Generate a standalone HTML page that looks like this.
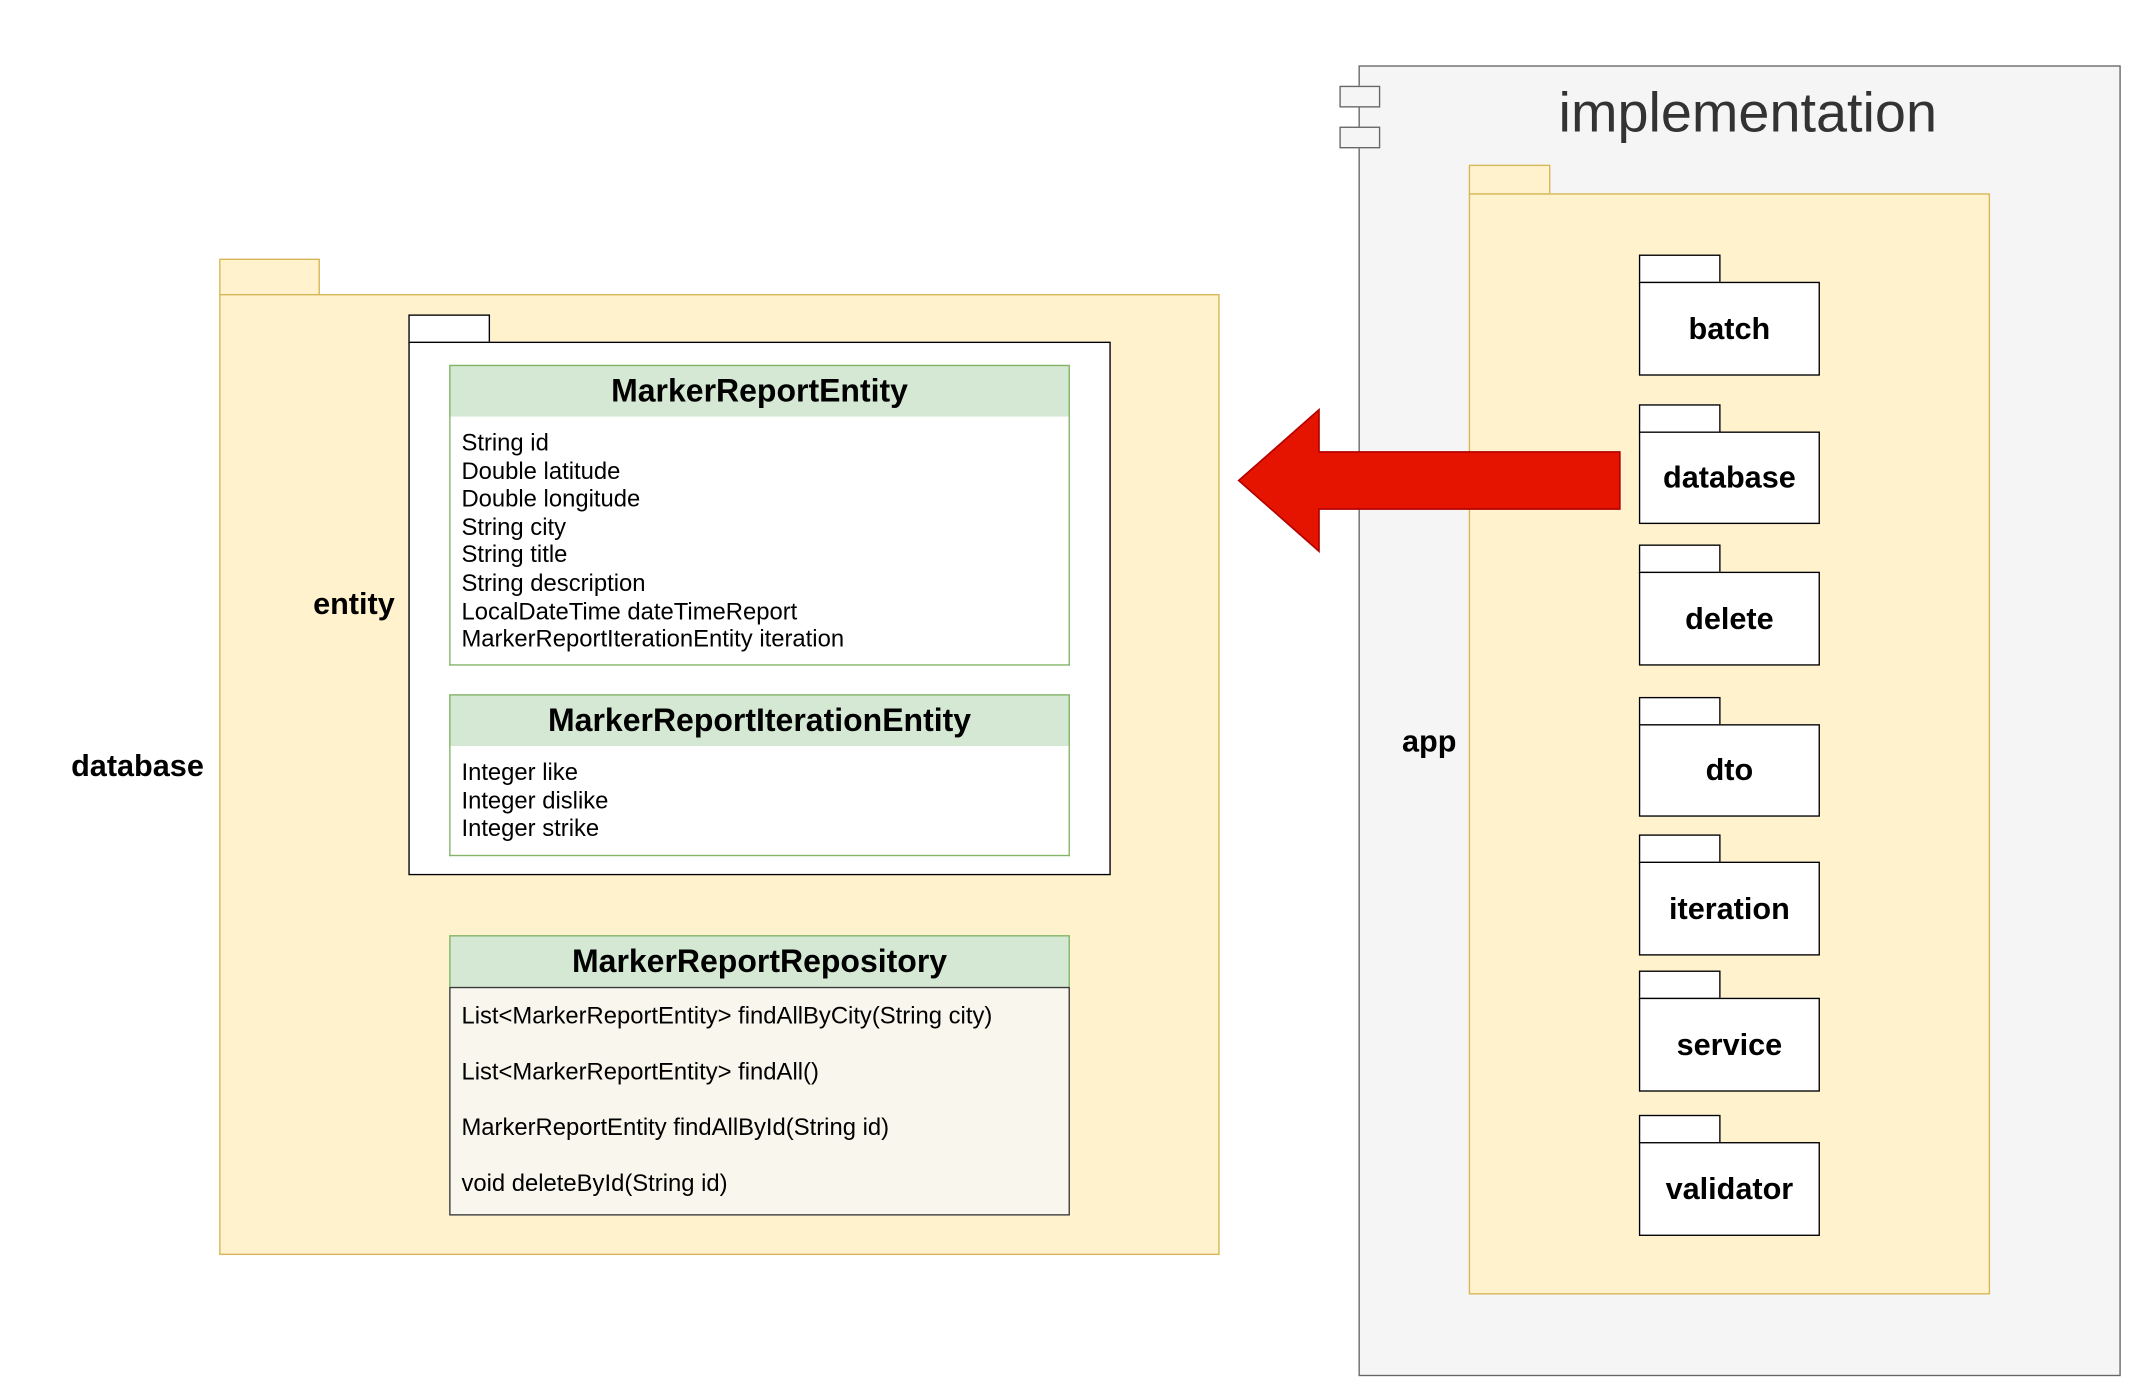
<!DOCTYPE html>
<html><head><meta charset="utf-8"><style>
html,body{margin:0;padding:0;background:#fff;width:2134px;height:1390px;overflow:hidden}
#s{position:absolute;left:0;top:0;width:1570px;height:1022px;transform:scale(1.3612);transform-origin:0 0;font-family:"Liberation Sans",Arial,sans-serif}
.a{position:absolute;box-sizing:border-box}
.lbl{position:absolute;font-weight:bold;font-size:22.5px;color:#000;white-space:nowrap;transform:translate(-50%,-50%)}
.pk{background:#fff;border:1.5px solid #000}
.pt{display:flex;align-items:center;justify-content:center;font-weight:bold;font-size:22.5px}
.hd{background:#d5e8d4;border:1.5px solid #82b366;display:flex;align-items:center;justify-content:center;font-weight:bold;font-size:23.5px}
.bd{background:#fff;border:1.5px solid #82b366;border-top:none;font-size:17.5px;line-height:20.6px;padding:9px 8px}
</style></head><body><div id="s">
<div class="a" style="left:998px;top:48px;width:560px;height:963px;background:#f5f5f5;border:1.5px solid #666"></div>
<div class="a" style="left:984px;top:63px;width:30px;height:16px;background:#f5f5f5;border:1.5px solid #666"></div>
<div class="a" style="left:984px;top:93px;width:30px;height:16px;background:#f5f5f5;border:1.5px solid #666"></div>
<div class="a" style="left:1284px;top:83px;transform:translate(-50%,-50%);font-size:41px;color:#333;white-space:nowrap">implementation</div>
<div class="a" style="left:1079px;top:121px;width:60px;height:22px;background:#fff2cc;border:1.5px solid #d6b656"></div>
<div class="a" style="left:1079px;top:142px;width:383px;height:809px;background:#fff2cc;border:1.5px solid #d6b656"></div>
<div class="lbl" style="left:1050px;top:545px">app</div>
<div class="a pk" style="left:1204px;top:187px;width:60px;height:21px"></div><div class="a pk pt" style="left:1204px;top:207px;width:133px;height:69px">batch</div>
<div class="a pk" style="left:1204px;top:297px;width:60px;height:21px"></div><div class="a pk pt" style="left:1204px;top:317px;width:133px;height:68px">database</div>
<div class="a pk" style="left:1204px;top:400px;width:60px;height:21px"></div><div class="a pk pt" style="left:1204px;top:420px;width:133px;height:69px">delete</div>
<div class="a pk" style="left:1204px;top:512px;width:60px;height:21px"></div><div class="a pk pt" style="left:1204px;top:532px;width:133px;height:68px">dto</div>
<div class="a pk" style="left:1204px;top:613px;width:60px;height:21px"></div><div class="a pk pt" style="left:1204px;top:633px;width:133px;height:69px">iteration</div>
<div class="a pk" style="left:1204px;top:713px;width:60px;height:21px"></div><div class="a pk pt" style="left:1204px;top:733px;width:133px;height:69px">service</div>
<div class="a pk" style="left:1204px;top:819px;width:60px;height:21px"></div><div class="a pk pt" style="left:1204px;top:839px;width:133px;height:69px">validator</div>
<div class="a" style="left:161px;top:190px;width:74px;height:27px;background:#fff2cc;border:1.5px solid #d6b656"></div>
<div class="a" style="left:161px;top:216px;width:735px;height:706px;background:#fff2cc;border:1.5px solid #d6b656"></div>
<div class="lbl" style="left:101px;top:563px">database</div>
<div class="a pk" style="left:300px;top:231px;width:60px;height:21px"></div>
<div class="a pk" style="left:300px;top:251px;width:516px;height:392px"></div>
<div class="lbl" style="left:260px;top:444px">entity</div>
<div class="a hd" style="left:330px;top:268px;width:456px;height:39px">MarkerReportEntity</div>
<div class="a bd" style="left:330px;top:306px;width:456px;height:183px">String id<br>Double latitude<br>Double longitude<br>String city<br>String title<br>String description<br>LocalDateTime dateTimeReport<br>MarkerReportIterationEntity iteration</div>
<div class="a hd" style="left:330px;top:510px;width:456px;height:39px">MarkerReportIterationEntity</div>
<div class="a bd" style="left:330px;top:548px;width:456px;height:81px">Integer like<br>Integer dislike<br>Integer strike</div>
<div class="a hd" style="left:330px;top:687px;width:456px;height:39px">MarkerReportRepository</div>
<div class="a" style="left:330px;top:725px;width:456px;height:168px;background:#f9f7ed;border:1.5px solid #36393d;font-size:17.5px;line-height:41px;padding:0 8px">List&lt;MarkerReportEntity&gt; findAllByCity(String city)<br>List&lt;MarkerReportEntity&gt; findAll()<br>MarkerReportEntity findAllById(String id)<br>void deleteById(String id)</div>
<svg class="a" style="left:0;top:0" width="1570" height="1022"><polygon points="910,353 969,301 969,332 1190,332 1190,374 969,374 969,405" fill="#e51400" stroke="#b20000" stroke-width="1.2"/></svg>
</div></body></html>
